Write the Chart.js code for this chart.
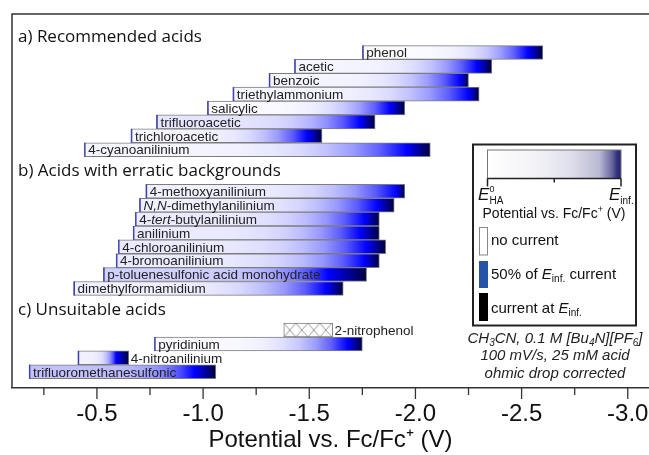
<!DOCTYPE html>
<html>
<head>
<meta charset="utf-8">
<script src="https://cdn.jsdelivr.net/npm/chart.js@4.4.0/dist/chart.umd.min.js"></script>
<style>
    html, body { margin: 0; padding: 0; background: #fff; }
</style>
</head>
<body>
<canvas id="acidChart" width="649" height="455"></canvas>
<script>
// a) recommended acids: E0_HA (start), E_inf. (end), potential at 50% current, background current fraction
const acidsA = ['phenol', 'acetic', 'benzoic', 'triethylammonium', 'salicylic', 'trifluoroacetic', 'trichloroacetic', '4-cyanoanilinium'];
const startA = [-1.75, -1.43, -1.31, -1.14, -1.02, -0.78, -0.66, -0.44];
const endA   = [-2.60, -2.36, -2.25, -2.30, -1.95, -1.81, -1.56, -2.07];
const halfA  = [-2.53, -2.29, -2.21, -2.25, -1.88, -1.74, -1.49, -1.96];
const baseA  = [0.01, 0.02, 0.02, 0.02, 0.01, 0.05, 0.02, 0.02];

// b) acids with erratic backgrounds
const acidsB = ['4-methoxyanilinium', 'N,N-dimethylanilinium', '4-tert-butylanilinium', 'anilinium', '4-chloroanilinium', '4-bromoanilinium', 'p-toluenesulfonic acid monohydrate', 'dimethylformamidium'];
const startB = [-0.73, -0.70, -0.68, -0.67, -0.60, -0.59, -0.53, -0.39];
const endB   = [-1.95, -1.90, -1.83, -1.83, -1.86, -1.83, -1.77, -1.66];
const halfB  = [-1.91, -1.82, -1.76, -1.74, -1.77, -1.76, -1.59, -1.58];
const baseB  = [0.03, 0.03, 0.04, 0.04, 0.04, 0.04, 0.09, 0.03];

// c) unsuitable acids (2-nitrophenol: no usable current data -> hatched)
const acidsC = ['2-nitrophenol', 'pyridinium', '4-nitroanilinium', 'trifluoromethanesulfonic'];
const startC = [-1.38, -0.77, -0.41, -0.18];
const endC   = [-1.61, -1.75, -0.65, -1.06];
const halfC  = [null, -1.68, -0.59, -0.96];
const baseC  = [null, 0.01, 0.03, 0.12];

const sectionTitles = ['a) Recommended acids', 'b) Acids with erratic backgrounds', 'c) Unsuitable acids'];
const majorTicks = [-0.5, -1.0, -1.5, -2.0, -2.5, -3.0];
const minorTicks = [-0.25, -0.75, -1.25, -1.75, -2.25, -2.75];
const italicParts = ['N,N', 'tert'];

const SANS = '"Liberation Sans", Arial, sans-serif';
const TITLE_FONT = '"Open Sans", "Noto Sans", sans-serif';

// one row per acid, two empty rows between sections
const rows = [];
const sectionStart = [];
[[acidsA, startA, endA, halfA, baseA],
 [acidsB, startB, endB, halfB, baseB],
 [acidsC, startC, endC, halfC, baseC]].forEach(([names, s, e, h, b]) => {
    const first = rows.length ? rows[rows.length - 1].row + 3 : 0;
    sectionStart.push(first);
    names.forEach((name, i) => {
        rows.push({ name, start: s[i], end: e[i], half: h[i], base: b[i], row: first + i });
    });
});

function currentColour(f) {
    f = Math.max(0, Math.min(1, f));
    if (f <= 0.5) {
        const c = Math.round(255 * (1 - f / 0.5));
        return `rgb(${c},${c},255)`;
    }
    const b = Math.round(255 - (f - 0.5) / 0.5 * 195);
    return `rgb(0,0,${b})`;
}

function rowThickness(chart) {
    const ys = chart.scales.y;
    return Math.abs(ys.getPixelForValue(1) - ys.getPixelForValue(0));
}

function hatchPattern(ctx, x0, top, h) {
    const tile = document.createElement('canvas');
    tile.width = 12;
    tile.height = 14;
    const t = tile.getContext('2d');
    t.fillStyle = '#fff';
    t.fillRect(0, 0, 12, 14);
    t.strokeStyle = '#8c8c8c';
    t.lineWidth = 0.9;
    t.beginPath();
    t.moveTo(0, 0); t.lineTo(12, 14);
    t.moveTo(12, 0); t.lineTo(0, 14);
    t.stroke();
    const p = ctx.createPattern(tile, 'repeat');
    p.setTransform(new DOMMatrix().translate(x0, top).scale(1, h / 14));
    return p;
}

function barFill(context) {
    const chart = context.chart;
    if (!chart.chartArea) return null;
    const r = rows[context.dataIndex];
    const xs = chart.scales.x;
    const x0 = xs.getPixelForValue(r.start);
    const x1 = xs.getPixelForValue(r.end);
    if (r.half === null) {
        const th = rowThickness(chart);
        return hatchPattern(chart.ctx, x0, chart.scales.y.getPixelForValue(r.row) - th / 2, th);
    }
    const g = chart.ctx.createLinearGradient(x0, 0, x1, 0);
    const h = (xs.getPixelForValue(r.half) - x0) / (x1 - x0);
    for (let i = 0; i <= 12; i++) {
        const t = i / 12;
        g.addColorStop(t * h, currentColour(r.base + (0.5 - r.base) * Math.pow(t, 5.5)));
    }
    for (let i = 1; i <= 4; i++) {
        const t = i / 4;
        g.addColorStop(h + (1 - h) * t, currentColour(0.5 + 0.5 * t));
    }
    return g;
}

// draws a list of text runs {t, size, italic, dy}
function drawRuns(ctx, runs, x, y, align) {
    const font = r => `${r.italic ? 'italic ' : ''}${r.size}px ${SANS}`;
    let total = 0;
    runs.forEach(r => { ctx.font = font(r); total += ctx.measureText(r.t).width; });
    let cx = align === 'center' ? x - total / 2 : x;
    ctx.textAlign = 'left';
    ctx.textBaseline = 'alphabetic';
    runs.forEach(r => {
        ctx.font = font(r);
        ctx.fillText(r.t, cx, y + (r.dy || 0));
        cx += ctx.measureText(r.t).width;
    });
    return total;
}

function labelRuns(name, size) {
    const re = new RegExp('(' + italicParts.join('|') + ')');
    return name.split(re).filter(s => s.length).map(s => ({ t: s, size, italic: italicParts.includes(s) }));
}

const barText = {
    id: 'barText',
    afterDatasetsDraw(chart) {
        const ctx = chart.ctx;
        const meta = chart.getDatasetMeta(0);
        ctx.save();
        meta.data.forEach((el, i) => {
            const { x, base, y, height } = el.getProps(['x', 'base', 'y', 'height'], true);
            const left = Math.min(x, base), right = Math.max(x, base);
            if (rows[i].half !== null) {
                ctx.strokeStyle = '#4040b8';
                ctx.lineWidth = 1.4;
                ctx.beginPath();
                ctx.moveTo(left + 0.7, y - height / 2);
                ctx.lineTo(left + 0.7, y + height / 2);
                ctx.stroke();
            }
            const runs = labelRuns(rows[i].name, 13.5);
            let w = 0;
            runs.forEach(r => { ctx.font = `${r.italic ? 'italic ' : ''}13.5px ${SANS}`; w += ctx.measureText(r.t).width; });
            const tx = (w + 8 < right - left) ? left + 4 : right + 2;
            ctx.fillStyle = '#222';
            drawRuns(ctx, runs, tx, y + 4.8, 'left');
        });
        ctx.restore();
    }
};

const frameAndNotes = {
    id: 'frameAndNotes',
    afterDraw(chart) {
        const ctx = chart.ctx;
        const area = chart.chartArea;
        const xs = chart.scales.x;
        const ys = chart.scales.y;
        ctx.save();

        // frame: top and left
        ctx.strokeStyle = '#333';
        ctx.lineWidth = 1.5;
        ctx.beginPath();
        ctx.moveTo(area.left, area.bottom);
        ctx.lineTo(area.left, area.top);
        ctx.lineTo(area.right, area.top);
        ctx.stroke();

        // x tick marks
        ctx.lineWidth = 1.3;
        majorTicks.concat(minorTicks).forEach(v => {
            const px = xs.getPixelForValue(v);
            ctx.beginPath();
            ctx.moveTo(px, area.bottom);
            ctx.lineTo(px, area.bottom + (majorTicks.includes(v) ? 11 : 7));
            ctx.stroke();
        });

        // section titles
        ctx.fillStyle = '#111';
        ctx.font = `17px ${TITLE_FONT}`;
        ctx.textAlign = 'left';
        ctx.textBaseline = 'alphabetic';
        sectionTitles.forEach((t, i) => {
            const row = Math.max(sectionStart[i] - 1.5, ys.min + 0.9);
            ctx.fillText(t, area.left + 6, ys.getPixelForValue(row) + 6);
        });

        // legend box
        ctx.strokeStyle = '#222';
        ctx.lineWidth = 2;
        ctx.strokeRect(473, 144.5, 163, 181);

        const gx0 = 487.5, gx1 = 621, gy0 = 150, gy1 = 178.5;
        const lg = ctx.createLinearGradient(gx0, 0, gx1, 0);
        lg.addColorStop(0, '#ffffff');
        lg.addColorStop(0.35, '#f3f3f7');
        lg.addColorStop(0.62, '#e0e0ec');
        lg.addColorStop(0.84, '#b8b8d4');
        lg.addColorStop(0.93, '#6a6aa2');
        lg.addColorStop(0.97, '#323280');
        lg.addColorStop(1, '#22226a');
        ctx.fillStyle = lg;
        ctx.fillRect(gx0, gy0, gx1 - gx0, gy1 - gy0);
        ctx.strokeStyle = '#777';
        ctx.lineWidth = 1;
        ctx.strokeRect(gx0, gy0, gx1 - gx0, gy1 - gy0);
        ctx.strokeStyle = '#222';
        ctx.lineWidth = 1.5;
        ctx.beginPath();
        ctx.moveTo(gx0, gy1); ctx.lineTo(gx1, gy1);
        ctx.moveTo(gx0, gy1); ctx.lineTo(gx0, gy1 + 8);
        ctx.moveTo(gx1, gy1); ctx.lineTo(gx1, gy1 + 8);
        ctx.moveTo((gx0 + gx1) / 2, gy1); ctx.lineTo((gx0 + gx1) / 2, gy1 + 4);
        ctx.stroke();

        ctx.fillStyle = '#111';
        drawRuns(ctx, [{ t: 'E', size: 17, italic: true }], 478, 200, 'left');
        drawRuns(ctx, [{ t: '0', size: 9 }], 489.5, 192, 'left');
        drawRuns(ctx, [{ t: 'HA', size: 10 }], 489.5, 204, 'left');
        drawRuns(ctx, [{ t: 'E', size: 17, italic: true }, { t: 'inf.', size: 10, dy: 4 }], 609, 200, 'left');
        drawRuns(ctx, [{ t: 'Potential vs. Fc/Fc', size: 14 }, { t: '+', size: 9, dy: -6 }, { t: ' (V)', size: 14 }], 554, 218, 'center');

        // legend swatches
        ctx.fillStyle = '#fff';
        ctx.fillRect(479.5, 227.5, 8, 27.5);
        ctx.strokeStyle = '#888';
        ctx.lineWidth = 1;
        ctx.strokeRect(479.5, 227.5, 8, 27.5);
        ctx.fillStyle = '#2554a6';
        ctx.fillRect(479, 261, 9, 27);
        ctx.fillStyle = '#000';
        ctx.fillRect(479, 293, 9, 28);

        ctx.fillStyle = '#111';
        drawRuns(ctx, [{ t: 'no current', size: 15 }], 491, 245, 'left');
        drawRuns(ctx, [{ t: '50% of ', size: 15 }, { t: 'E', size: 15, italic: true }, { t: 'inf.', size: 10, dy: 3 }, { t: ' current', size: 15 }], 491, 278.5, 'left');
        drawRuns(ctx, [{ t: 'current at ', size: 15 }, { t: 'E', size: 15, italic: true }, { t: 'inf.', size: 10, dy: 3 }], 491, 313, 'left');

        // experimental conditions
        ctx.fillStyle = '#222';
        drawRuns(ctx, [
            { t: 'CH', size: 15, italic: true }, { t: '3', size: 10, italic: true, dy: 3 },
            { t: 'CN, 0.1 M [Bu', size: 15, italic: true }, { t: '4', size: 10, italic: true, dy: 3 },
            { t: 'N][PF', size: 15, italic: true }, { t: '6', size: 10, italic: true, dy: 3 },
            { t: ']', size: 15, italic: true }
        ], 555, 343, 'center');
        drawRuns(ctx, [{ t: '100 mV/s, 25 mM acid', size: 15, italic: true }], 555, 359.5, 'center');
        drawRuns(ctx, [{ t: 'ohmic drop corrected', size: 15, italic: true }], 555, 378, 'center');

        ctx.restore();
    }
};

new Chart(document.getElementById('acidChart'), {
    type: 'bar',
    data: {
        datasets: [{
            data: rows.map(r => ({ x: [r.start, r.end], y: r.row })),
            backgroundColor: barFill,
            borderColor: '#7d7d7d',
            borderWidth: 1,
            borderSkipped: false,
            barPercentage: 1,
            categoryPercentage: 1
        }]
    },
    options: {
        indexAxis: 'y',
        responsive: false,
        devicePixelRatio: 1,
        animation: false,
        layout: { padding: { top: 14, left: 12, right: 0, bottom: 0 } },
        plugins: {
            legend: { display: false },
            tooltip: { enabled: false }
        },
        scales: {
            y: {
                type: 'linear',
                reverse: true,
                min: -2.1,
                max: 23.5,
                display: false,
                afterBuildTicks: s => { s.ticks = rows.map(r => ({ value: r.row })); }
            },
            x: {
                type: 'linear',
                reverse: true,
                min: -3.1,
                max: -0.1,
                afterBuildTicks: s => {
                    s.ticks = majorTicks.concat(minorTicks).sort((a, b) => a - b).map(v => ({ value: v }));
                },
                afterFit: s => { s.height = 67; },
                grid: { display: false, drawTicks: false },
                border: { display: true, color: '#333', width: 1.5 },
                ticks: {
                    autoSkip: false,
                    maxRotation: 0,
                    padding: 12,
                    color: '#111',
                    font: { family: SANS, size: 24 },
                    callback: v => majorTicks.includes(v) ? v.toFixed(1) : ''
                },
                title: {
                    display: true,
                    text: 'Potential vs. Fc/Fc⁺ (V)',
                    color: '#111',
                    font: { family: SANS, size: 24 },
                    padding: { top: 0, bottom: 0 }
                }
            }
        }
    },
    plugins: [barText, frameAndNotes]
});
</script>
</body>
</html>
